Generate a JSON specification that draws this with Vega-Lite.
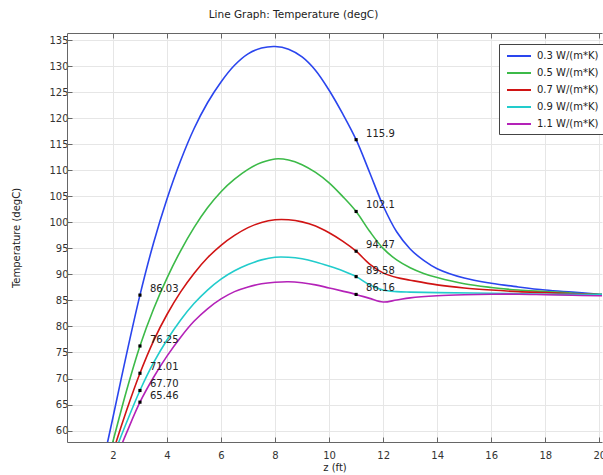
{
  "$schema": "https://vega.github.io/schema/vega-lite/v6.json",
  "width": 535,
  "height": 409,
  "autosize": {"type": "none"},
  "padding": {"left": 67, "top": 33, "right": 1, "bottom": 33},
  "background": "white",
  "title": {
    "text": "Line Graph: Temperature (degC)",
    "anchor": "middle",
    "frame": "group",
    "dx": -41,
    "offset": 12,
    "fontSize": 10.5,
    "fontWeight": "normal",
    "color": "#222222",
    "font": "DejaVu Sans"
  },
  "config": {
    "view": {"stroke": null},
    "font": "DejaVu Sans",
    "axis": {
      "domainColor": "#666666",
      "tickColor": "#666666",
      "gridColor": "#e6e6e6",
      "labelColor": "#333333",
      "labelFontSize": 10,
      "titleFontSize": 10,
      "titleFontWeight": "normal",
      "titleColor": "#222222"
    }
  },
  "datasets": {
    "curves": [
      {"k": "0.3 W/(m*K)", "z": 1.6, "T": 53.0},
      {"k": "0.3 W/(m*K)", "z": 2.0, "T": 62.5},
      {"k": "0.3 W/(m*K)", "z": 2.5, "T": 74.6},
      {"k": "0.3 W/(m*K)", "z": 3.0, "T": 86.03},
      {"k": "0.3 W/(m*K)", "z": 3.5, "T": 96.0},
      {"k": "0.3 W/(m*K)", "z": 4.0, "T": 104.5},
      {"k": "0.3 W/(m*K)", "z": 4.5, "T": 111.8},
      {"k": "0.3 W/(m*K)", "z": 5.0, "T": 118.0},
      {"k": "0.3 W/(m*K)", "z": 5.5, "T": 123.0},
      {"k": "0.3 W/(m*K)", "z": 6.0, "T": 127.0},
      {"k": "0.3 W/(m*K)", "z": 6.5, "T": 130.2},
      {"k": "0.3 W/(m*K)", "z": 7.0, "T": 132.4},
      {"k": "0.3 W/(m*K)", "z": 7.5, "T": 133.5},
      {"k": "0.3 W/(m*K)", "z": 8.0, "T": 133.8},
      {"k": "0.3 W/(m*K)", "z": 8.5, "T": 133.3},
      {"k": "0.3 W/(m*K)", "z": 9.0, "T": 131.8},
      {"k": "0.3 W/(m*K)", "z": 9.5, "T": 129.2},
      {"k": "0.3 W/(m*K)", "z": 10.0, "T": 125.4},
      {"k": "0.3 W/(m*K)", "z": 10.5, "T": 120.9},
      {"k": "0.3 W/(m*K)", "z": 11.0, "T": 115.9},
      {"k": "0.3 W/(m*K)", "z": 11.5, "T": 109.6},
      {"k": "0.3 W/(m*K)", "z": 12.0, "T": 103.2},
      {"k": "0.3 W/(m*K)", "z": 12.5, "T": 98.2},
      {"k": "0.3 W/(m*K)", "z": 13.0, "T": 94.9},
      {"k": "0.3 W/(m*K)", "z": 13.5, "T": 92.7},
      {"k": "0.3 W/(m*K)", "z": 14.0, "T": 91.1},
      {"k": "0.3 W/(m*K)", "z": 15.0, "T": 89.3},
      {"k": "0.3 W/(m*K)", "z": 16.0, "T": 88.3},
      {"k": "0.3 W/(m*K)", "z": 17.0, "T": 87.6},
      {"k": "0.3 W/(m*K)", "z": 18.0, "T": 87.0},
      {"k": "0.3 W/(m*K)", "z": 19.0, "T": 86.6},
      {"k": "0.3 W/(m*K)", "z": 20.0, "T": 86.2},
      {"k": "0.3 W/(m*K)", "z": 20.3, "T": 86.1},

      {"k": "0.5 W/(m*K)", "z": 1.8, "T": 54.0},
      {"k": "0.5 W/(m*K)", "z": 2.0, "T": 57.9},
      {"k": "0.5 W/(m*K)", "z": 2.5, "T": 67.6},
      {"k": "0.5 W/(m*K)", "z": 3.0, "T": 76.25},
      {"k": "0.5 W/(m*K)", "z": 3.5, "T": 83.3},
      {"k": "0.5 W/(m*K)", "z": 4.0, "T": 89.3},
      {"k": "0.5 W/(m*K)", "z": 4.5, "T": 94.5},
      {"k": "0.5 W/(m*K)", "z": 5.0, "T": 99.0},
      {"k": "0.5 W/(m*K)", "z": 5.5, "T": 102.8},
      {"k": "0.5 W/(m*K)", "z": 6.0, "T": 105.9},
      {"k": "0.5 W/(m*K)", "z": 6.5, "T": 108.3},
      {"k": "0.5 W/(m*K)", "z": 7.0, "T": 110.2},
      {"k": "0.5 W/(m*K)", "z": 7.5, "T": 111.5},
      {"k": "0.5 W/(m*K)", "z": 8.0, "T": 112.2},
      {"k": "0.5 W/(m*K)", "z": 8.5, "T": 112.0},
      {"k": "0.5 W/(m*K)", "z": 9.0, "T": 111.1},
      {"k": "0.5 W/(m*K)", "z": 9.5, "T": 109.6},
      {"k": "0.5 W/(m*K)", "z": 10.0, "T": 107.6},
      {"k": "0.5 W/(m*K)", "z": 10.5, "T": 105.0},
      {"k": "0.5 W/(m*K)", "z": 11.0, "T": 102.1},
      {"k": "0.5 W/(m*K)", "z": 11.5, "T": 98.3},
      {"k": "0.5 W/(m*K)", "z": 12.0, "T": 95.0},
      {"k": "0.5 W/(m*K)", "z": 12.5, "T": 92.8},
      {"k": "0.5 W/(m*K)", "z": 13.0, "T": 91.3},
      {"k": "0.5 W/(m*K)", "z": 13.5, "T": 90.2},
      {"k": "0.5 W/(m*K)", "z": 14.0, "T": 89.4},
      {"k": "0.5 W/(m*K)", "z": 15.0, "T": 88.2},
      {"k": "0.5 W/(m*K)", "z": 16.0, "T": 87.5},
      {"k": "0.5 W/(m*K)", "z": 17.0, "T": 87.0},
      {"k": "0.5 W/(m*K)", "z": 18.0, "T": 86.7},
      {"k": "0.5 W/(m*K)", "z": 19.0, "T": 86.4},
      {"k": "0.5 W/(m*K)", "z": 20.0, "T": 86.2},
      {"k": "0.5 W/(m*K)", "z": 20.3, "T": 86.1},

      {"k": "0.7 W/(m*K)", "z": 1.9, "T": 54.0},
      {"k": "0.7 W/(m*K)", "z": 2.0, "T": 55.8},
      {"k": "0.7 W/(m*K)", "z": 2.5, "T": 63.8},
      {"k": "0.7 W/(m*K)", "z": 3.0, "T": 71.01},
      {"k": "0.7 W/(m*K)", "z": 3.5, "T": 77.2},
      {"k": "0.7 W/(m*K)", "z": 4.0, "T": 82.3},
      {"k": "0.7 W/(m*K)", "z": 4.5, "T": 86.6},
      {"k": "0.7 W/(m*K)", "z": 5.0, "T": 90.2},
      {"k": "0.7 W/(m*K)", "z": 5.5, "T": 93.2},
      {"k": "0.7 W/(m*K)", "z": 6.0, "T": 95.6},
      {"k": "0.7 W/(m*K)", "z": 6.5, "T": 97.5},
      {"k": "0.7 W/(m*K)", "z": 7.0, "T": 99.0},
      {"k": "0.7 W/(m*K)", "z": 7.5, "T": 100.0},
      {"k": "0.7 W/(m*K)", "z": 8.0, "T": 100.5},
      {"k": "0.7 W/(m*K)", "z": 8.5, "T": 100.5},
      {"k": "0.7 W/(m*K)", "z": 9.0, "T": 100.1},
      {"k": "0.7 W/(m*K)", "z": 9.5, "T": 99.3},
      {"k": "0.7 W/(m*K)", "z": 10.0, "T": 98.0},
      {"k": "0.7 W/(m*K)", "z": 10.5, "T": 96.4},
      {"k": "0.7 W/(m*K)", "z": 11.0, "T": 94.47},
      {"k": "0.7 W/(m*K)", "z": 11.5, "T": 92.0},
      {"k": "0.7 W/(m*K)", "z": 12.0, "T": 90.3},
      {"k": "0.7 W/(m*K)", "z": 12.5, "T": 89.4},
      {"k": "0.7 W/(m*K)", "z": 13.0, "T": 88.9},
      {"k": "0.7 W/(m*K)", "z": 14.0, "T": 88.0},
      {"k": "0.7 W/(m*K)", "z": 15.0, "T": 87.4},
      {"k": "0.7 W/(m*K)", "z": 16.0, "T": 87.0},
      {"k": "0.7 W/(m*K)", "z": 17.0, "T": 86.7},
      {"k": "0.7 W/(m*K)", "z": 18.0, "T": 86.5},
      {"k": "0.7 W/(m*K)", "z": 19.0, "T": 86.3},
      {"k": "0.7 W/(m*K)", "z": 20.0, "T": 86.1},
      {"k": "0.7 W/(m*K)", "z": 20.3, "T": 86.1},

      {"k": "0.9 W/(m*K)", "z": 2.0, "T": 54.9},
      {"k": "0.9 W/(m*K)", "z": 2.5, "T": 61.5},
      {"k": "0.9 W/(m*K)", "z": 3.0, "T": 67.7},
      {"k": "0.9 W/(m*K)", "z": 3.5, "T": 73.0},
      {"k": "0.9 W/(m*K)", "z": 4.0, "T": 77.4},
      {"k": "0.9 W/(m*K)", "z": 4.5, "T": 81.2},
      {"k": "0.9 W/(m*K)", "z": 5.0, "T": 84.4},
      {"k": "0.9 W/(m*K)", "z": 5.5, "T": 87.0},
      {"k": "0.9 W/(m*K)", "z": 6.0, "T": 89.1},
      {"k": "0.9 W/(m*K)", "z": 6.5, "T": 90.7},
      {"k": "0.9 W/(m*K)", "z": 7.0, "T": 91.9},
      {"k": "0.9 W/(m*K)", "z": 7.5, "T": 92.8},
      {"k": "0.9 W/(m*K)", "z": 8.0, "T": 93.3},
      {"k": "0.9 W/(m*K)", "z": 8.5, "T": 93.3},
      {"k": "0.9 W/(m*K)", "z": 9.0, "T": 93.0},
      {"k": "0.9 W/(m*K)", "z": 9.5, "T": 92.4},
      {"k": "0.9 W/(m*K)", "z": 10.0, "T": 91.6},
      {"k": "0.9 W/(m*K)", "z": 10.5, "T": 90.7},
      {"k": "0.9 W/(m*K)", "z": 11.0, "T": 89.58},
      {"k": "0.9 W/(m*K)", "z": 11.5, "T": 88.0},
      {"k": "0.9 W/(m*K)", "z": 12.0, "T": 87.0},
      {"k": "0.9 W/(m*K)", "z": 12.5, "T": 86.7},
      {"k": "0.9 W/(m*K)", "z": 13.0, "T": 86.6},
      {"k": "0.9 W/(m*K)", "z": 14.0, "T": 86.5},
      {"k": "0.9 W/(m*K)", "z": 16.0, "T": 86.4},
      {"k": "0.9 W/(m*K)", "z": 18.0, "T": 86.2},
      {"k": "0.9 W/(m*K)", "z": 20.0, "T": 86.1},
      {"k": "0.9 W/(m*K)", "z": 20.3, "T": 86.0},

      {"k": "1.1 W/(m*K)", "z": 2.0, "T": 53.2},
      {"k": "1.1 W/(m*K)", "z": 2.5, "T": 59.5},
      {"k": "1.1 W/(m*K)", "z": 3.0, "T": 65.46},
      {"k": "1.1 W/(m*K)", "z": 3.5, "T": 70.2},
      {"k": "1.1 W/(m*K)", "z": 4.0, "T": 74.3},
      {"k": "1.1 W/(m*K)", "z": 4.5, "T": 77.9},
      {"k": "1.1 W/(m*K)", "z": 5.0, "T": 81.0},
      {"k": "1.1 W/(m*K)", "z": 5.5, "T": 83.4},
      {"k": "1.1 W/(m*K)", "z": 6.0, "T": 85.3},
      {"k": "1.1 W/(m*K)", "z": 6.5, "T": 86.7},
      {"k": "1.1 W/(m*K)", "z": 7.0, "T": 87.6},
      {"k": "1.1 W/(m*K)", "z": 7.5, "T": 88.2},
      {"k": "1.1 W/(m*K)", "z": 8.0, "T": 88.5},
      {"k": "1.1 W/(m*K)", "z": 8.5, "T": 88.6},
      {"k": "1.1 W/(m*K)", "z": 9.0, "T": 88.4},
      {"k": "1.1 W/(m*K)", "z": 9.5, "T": 88.0},
      {"k": "1.1 W/(m*K)", "z": 10.0, "T": 87.4},
      {"k": "1.1 W/(m*K)", "z": 10.5, "T": 86.8},
      {"k": "1.1 W/(m*K)", "z": 11.0, "T": 86.16},
      {"k": "1.1 W/(m*K)", "z": 11.5, "T": 85.4},
      {"k": "1.1 W/(m*K)", "z": 12.0, "T": 84.7},
      {"k": "1.1 W/(m*K)", "z": 12.5, "T": 85.1},
      {"k": "1.1 W/(m*K)", "z": 13.0, "T": 85.5},
      {"k": "1.1 W/(m*K)", "z": 14.0, "T": 85.9},
      {"k": "1.1 W/(m*K)", "z": 15.0, "T": 86.1},
      {"k": "1.1 W/(m*K)", "z": 16.0, "T": 86.2},
      {"k": "1.1 W/(m*K)", "z": 17.0, "T": 86.2},
      {"k": "1.1 W/(m*K)", "z": 18.0, "T": 86.1},
      {"k": "1.1 W/(m*K)", "z": 19.0, "T": 86.0},
      {"k": "1.1 W/(m*K)", "z": 20.0, "T": 85.9},
      {"k": "1.1 W/(m*K)", "z": 20.3, "T": 85.9}
    ],
    "probes": [
      {"k": "0.3 W/(m*K)", "z": 3, "T": 86.03, "label": "86.03"},
      {"k": "0.5 W/(m*K)", "z": 3, "T": 76.25, "label": "76.25"},
      {"k": "0.7 W/(m*K)", "z": 3, "T": 71.01, "label": "71.01"},
      {"k": "0.9 W/(m*K)", "z": 3, "T": 67.70, "label": "67.70"},
      {"k": "1.1 W/(m*K)", "z": 3, "T": 65.46, "label": "65.46"},
      {"k": "0.3 W/(m*K)", "z": 11, "T": 115.9, "label": "115.9"},
      {"k": "0.5 W/(m*K)", "z": 11, "T": 102.1, "label": "102.1"},
      {"k": "0.7 W/(m*K)", "z": 11, "T": 94.47, "label": "94.47"},
      {"k": "0.9 W/(m*K)", "z": 11, "T": 89.58, "label": "89.58"},
      {"k": "1.1 W/(m*K)", "z": 11, "T": 86.16, "label": "86.16"}
    ]
  },
  "layer": [
    {
      "data": {"name": "curves"},
      "mark": {"type": "line", "interpolate": "catmull-rom", "strokeWidth": 1.6, "clip": true},
      "encoding": {
        "x": {
          "field": "z", "type": "quantitative",
          "scale": {"domain": [0.3, 20.1], "nice": false, "zero": false},
          "axis": {
            "orient": "bottom", "title": "z (ft)", "values": [2, 4, 6, 8, 10, 12, 14, 16, 18, 20],
            "grid": true, "tickSize": -5, "labelPadding": 13, "titlePadding": 2
          }
        },
        "y": {
          "field": "T", "type": "quantitative",
          "scale": {"domain": [57.8, 136.4], "nice": false, "zero": false},
          "axis": {
            "orient": "left", "title": "Temperature (degC)",
            "values": [60, 65, 70, 75, 80, 85, 90, 95, 100, 105, 110, 115, 120, 125, 130, 135],
            "grid": true, "tickSize": -5, "labelPadding": 4, "titlePadding": 27
          }
        },
        "color": {
          "field": "k", "type": "nominal",
          "scale": {
            "domain": ["0.3 W/(m*K)", "0.5 W/(m*K)", "0.7 W/(m*K)", "0.9 W/(m*K)", "1.1 W/(m*K)"],
            "range": ["#2a45ee", "#3cba48", "#d01414", "#22cccc", "#b422b8"]
          },
          "legend": {
            "title": null, "orient": "none", "legendX": 432, "legendY": 11,
            "symbolType": "M-2,0H2", "symbolSize": 144, "symbolStrokeWidth": 2,
            "symbolOffset": 8,
            "labelFontSize": 10, "labelColor": "#222222", "labelOffset": 11, "labelLimit": 200,
            "rowPadding": 5, "padding": 5, "strokeColor": "#444444", "fillColor": "white"
          }
        }
      }
    },
    {
      "data": {"name": "probes"},
      "mark": {"type": "square", "size": 10, "color": "black", "opacity": 1},
      "encoding": {
        "x": {
          "field": "z", "type": "quantitative",
          "axis": {
            "orient": "top", "title": null, "labels": false, "grid": false,
            "values": [2, 4, 6, 8, 10, 12, 14, 16, 18, 20], "tickSize": -5
          }
        },
        "y": {"field": "T", "type": "quantitative", "axis": null}
      }
    },
    {
      "data": {"name": "probes"},
      "mark": {"type": "text", "align": "left", "baseline": "middle", "dx": 10, "dy": -6, "fontSize": 10, "color": "#222222"},
      "encoding": {
        "x": {"field": "z", "type": "quantitative", "axis": null},
        "y": {"field": "T", "type": "quantitative", "axis": null},
        "text": {"field": "label"}
      }
    }
  ],
  "resolve": {"axis": {"x": "independent", "y": "independent"}}
}
